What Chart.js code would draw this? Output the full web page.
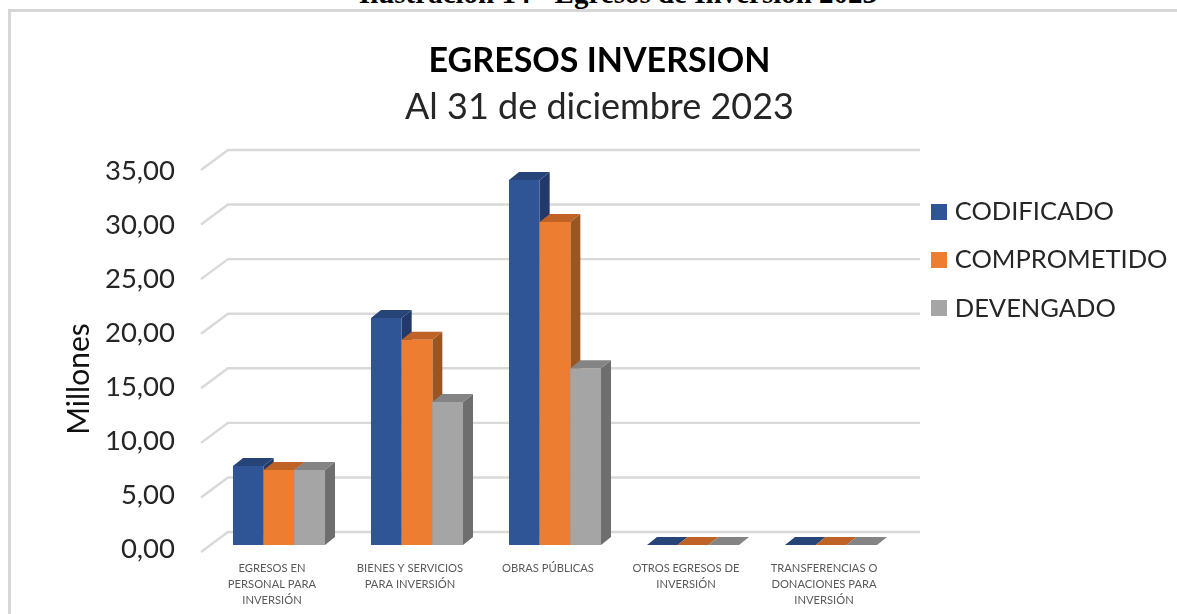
<!DOCTYPE html>
<html lang="es"><head><meta charset="utf-8">
<script src="https://cdn.jsdelivr.net/npm/chart.js@4"></script>
<style>
html,body{margin:0;padding:0;background:#fff;overflow:hidden;width:1177px;height:614px}
#frame{position:absolute;left:8px;top:9px;width:1300px;height:800px;border:3px solid #d6d6d6;box-sizing:border-box}
#cap{position:absolute;left:318px;top:-22px;width:600px;text-align:center;white-space:nowrap;font:bold 29px "Liberation Serif",serif;line-height:30px;color:#000}
canvas{position:absolute;left:0;top:0}
</style></head><body>
<div id="frame"></div>
<div id="cap">Ilustración 14 - Egresos de Inversión 2023</div>
<canvas id="c" width="1177" height="614"></canvas>
<script>
const categories=[["EGRESOS EN","PERSONAL PARA","INVERSIÓN"],["BIENES Y SERVICIOS","PARA INVERSIÓN"],["OBRAS PÚBLICAS"],["OTROS EGRESOS DE","INVERSIÓN"],["TRANSFERENCIAS O","DONACIONES PARA","INVERSIÓN"]];
const codificado=[7.24,20.8,33.44,0,0];
const comprometido=[6.87,18.8,29.6,0,0];
const devengado=[6.87,13.1,16.2,0,0];
const tickValues=[0,5,10,15,20,25,30,35];
const seriesNames=["CODIFICADO","COMPROMETIDO","DEVENGADO"];
const fills=["#2F5597","#ED7D31","#A5A5A5"];
const sideFills=["#22396A","#9A5520","#6E6E6E"];
const topFills=["#264478","#BE6225","#848484"];
const depth={dx:10,dy:-8};
const wall={left:201,backLeft:228,backRight:920,front:7,back:-13};

const wallPlugin={id:'wall',beforeDatasetsDraw(chart){
  const y=chart.scales.y,ctx=chart.ctx;
  ctx.save();ctx.strokeStyle='#d9d9d9';ctx.lineWidth=2.4;
  tickValues.forEach(v=>{
    const p=y.getPixelForValue(v);
    ctx.beginPath();
    ctx.moveTo(wall.left,p+wall.front);
    ctx.lineTo(wall.backLeft,p+wall.back);
    ctx.lineTo(wall.backRight,p+wall.back);
    ctx.stroke();
  });
  ctx.restore();
}};
const extrudePlugin={id:'extrude',
  beforeDatasetDraw(){return false;},
  afterDatasetsDraw(chart){
    const ctx=chart.ctx;
    chart.data.datasets.forEach((d,i)=>{
      const meta=chart.getDatasetMeta(i);
      meta.data.forEach(el=>{
        const l=el.x-el.width/2,r=el.x+el.width/2,t=el.y,b=el.base,{dx,dy}=depth;
        ctx.fillStyle=sideFills[i];
        ctx.beginPath();ctx.moveTo(r,t);ctx.lineTo(r+dx,t+dy);ctx.lineTo(r+dx,b+dy);ctx.lineTo(r,b);ctx.closePath();ctx.fill();
        ctx.fillStyle=topFills[i];
        ctx.beginPath();ctx.moveTo(l,t);ctx.lineTo(l+dx,t+dy);ctx.lineTo(r+dx,t+dy);ctx.lineTo(r,t);ctx.closePath();ctx.fill();
      });
      meta.data.forEach(el=>el.draw(ctx));
    });
    // legend swatches: the library's own box leaves too wide a gap before the text
    const boxes=chart.legend.legendHitBoxes;
    boxes.forEach((b,i)=>{ctx.fillStyle=fills[i];ctx.fillRect(931,204+i*48,16,16);});
  }};
const legendPlace={id:'legendPlace',
  beforeLayout(chart){const l=chart.legend;if(l&&!l._fixed){const f=l.fit;l.fit=function(){f.call(this);this.width=277;};l._fixed=true;}},
  beforeDraw(chart){
    const l=chart.legend,p=l.options.labels.padding;l.left=932-p;l.top=199-p;
    const s=chart.scales.yTicks;
    if(!s._shifted){const o=s.drawTitle;s.drawTitle=function(){const c=this.ctx;c.save();c.translate(0,25);o.call(this);c.restore();};s._shifted=true;}
  }
};

new Chart(document.getElementById('c'),{
  type:'bar',
  data:{labels:categories,datasets:[codificado,comprometido,devengado].map((data,i)=>({label:seriesNames[i],data,backgroundColor:fills[i],categoryPercentage:0.667,barPercentage:1,borderWidth:0}))},
  plugins:[wallPlugin,extrudePlugin,legendPlace],
  options:{
    responsive:false,animation:false,
    layout:{padding:{left:22,right:0,top:0,bottom:0}},
    plugins:{
      title:{display:true,text:"EGRESOS INVERSION",color:'#000',font:{family:'Lato',weight:'bold',size:34,lineHeight:1.2},padding:{top:41,bottom:0}},
      subtitle:{display:true,text:"Al 31 de diciembre 2023",color:'#262626',font:{family:'Lato',size:36,lineHeight:1.2},padding:{top:4,bottom:34}},
      legend:{position:'right',align:'start',labels:{boxWidth:10,boxHeight:16,padding:23,color:'#262626',font:{family:'Lato',size:25.5},
        generateLabels(chart){return Chart.defaults.plugins.legend.labels.generateLabels(chart).map(it=>({...it,fillStyle:'rgba(0,0,0,0)',strokeStyle:'rgba(0,0,0,0)',lineWidth:0}));}}},
      tooltip:{enabled:false}
    },
    scales:{
      x:{grid:{display:false,drawTicks:false},border:{display:false},
        afterFit(s){s.height=69;},
        ticks:{maxRotation:0,autoSkip:false,padding:15,labelOffset:-7,color:'#595959',font:{family:'Lato',size:11.2,lineHeight:1.43}}},
      y:{display:false,min:0,max:35,grid:{display:false}},
      yTicks:{type:'linear',position:'left',min:0.37,max:35.74,
        grid:{display:false,drawTicks:false},border:{display:false},
        afterBuildTicks(s){s.ticks=tickValues.map(value=>({value}));},
        afterFit(s){s.width=188;},
        title:{display:true,text:"Millones",color:'#111',font:{family:'Lato',size:30,lineHeight:1.2},padding:{top:39,bottom:0}},
        ticks:{autoSkip:false,padding:35,color:'#262626',font:{family:'Lato',size:27.5},callback:v=>v.toFixed(2).replace('.',',')}}
    }
  }
});
</script>
</body></html>
